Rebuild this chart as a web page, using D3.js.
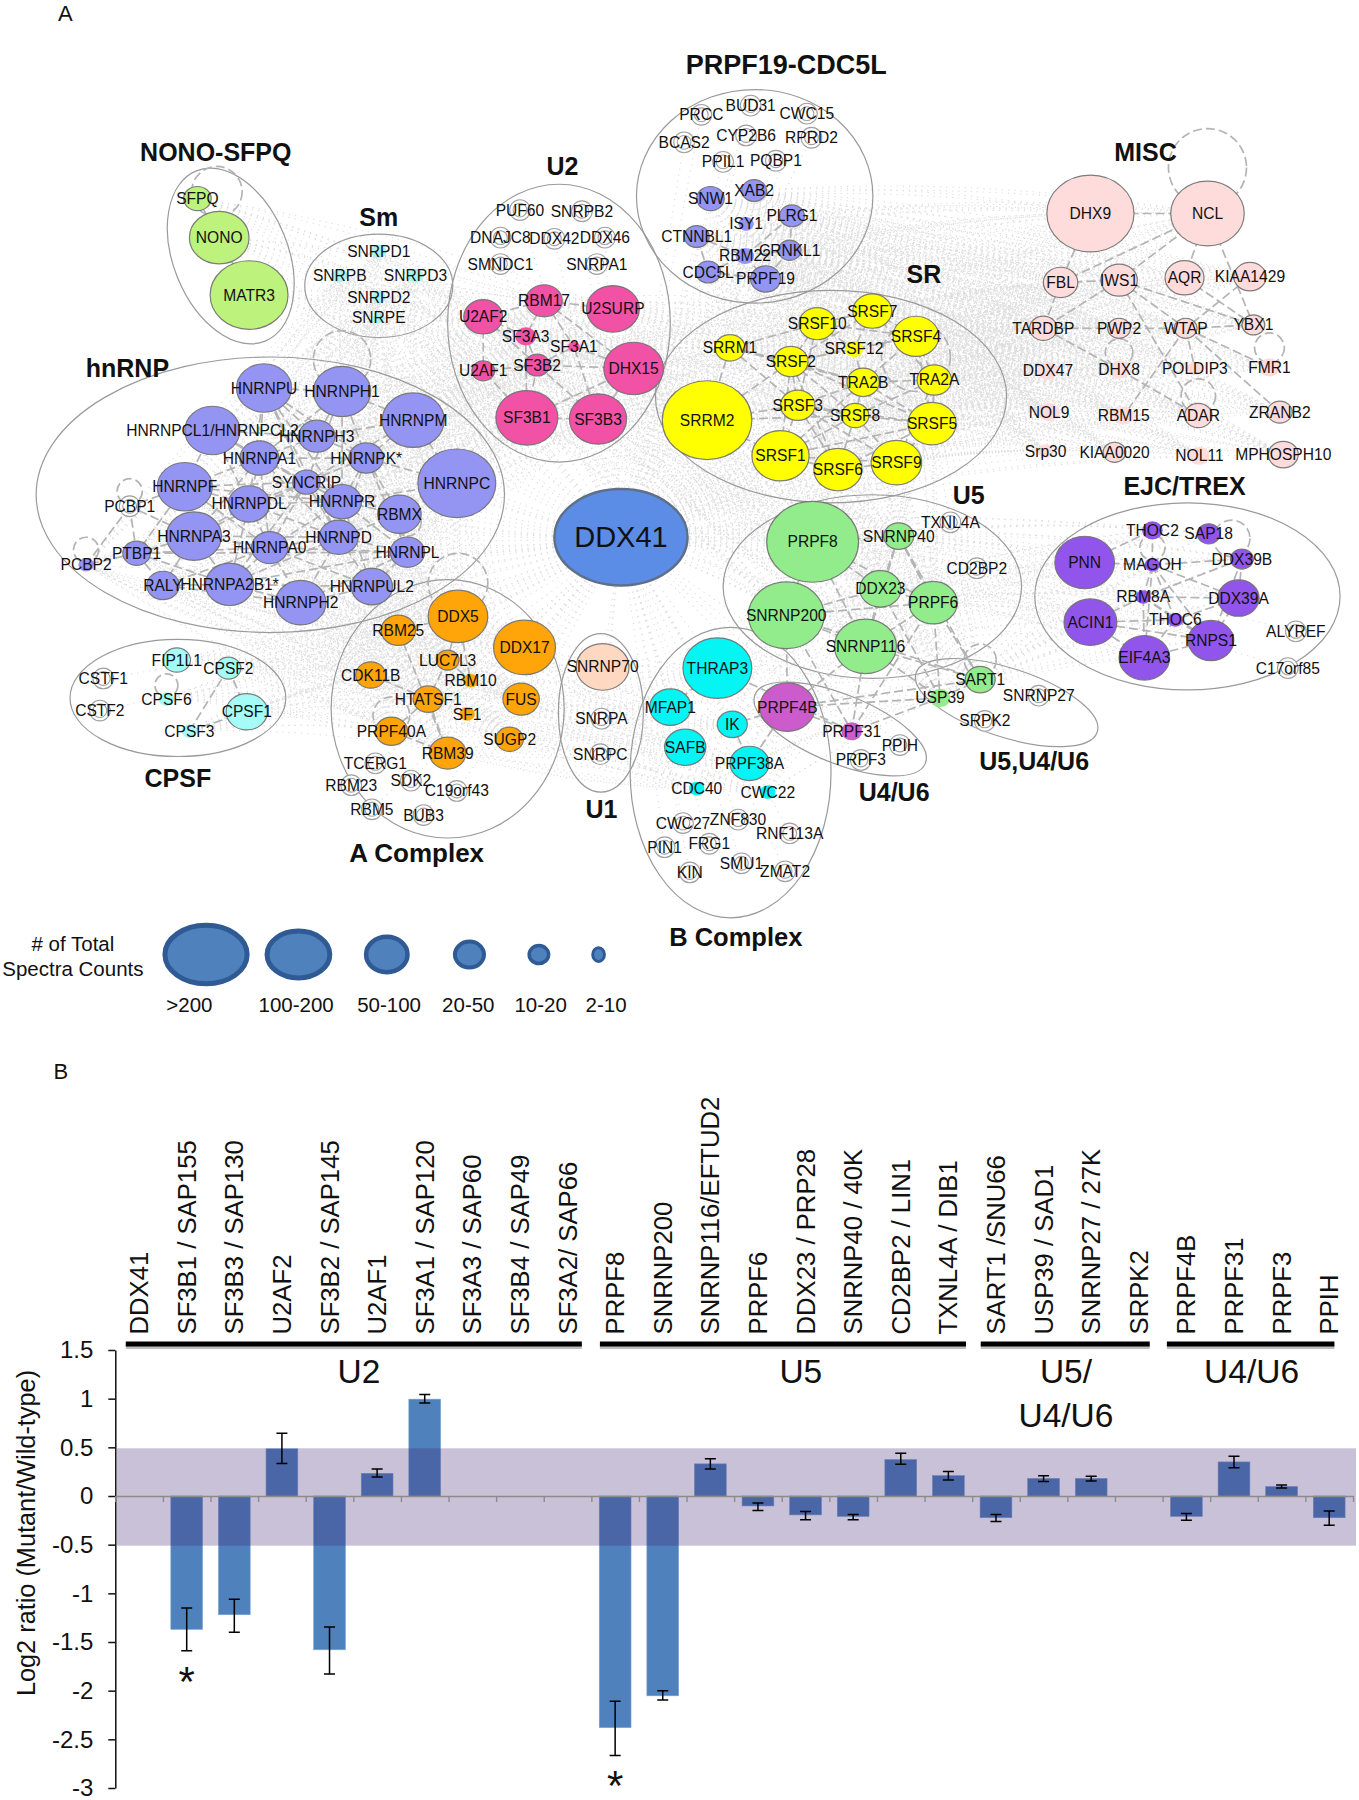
<!DOCTYPE html>
<html><head><meta charset="utf-8">
<script src="https://cdn.jsdelivr.net/npm/d3@7/dist/d3.min.js"></script>
<style>
html,body{margin:0;padding:0;background:#fff}
svg{display:block}
text{font-family:"Liberation Sans",Arial,sans-serif;fill:#111}
</style></head><body><div id="c"></div>
<script>
// ---------- Panel A: network layout, [name, layout x, layout y, spectra count]; count 0 = not quantified
const nono=[["SFPQ",172,173,16],["NONO",191,207,75],["MATR3",217,257,128]];
const sm=[["SNRPD1",330,219,5],["SNRPB",296,240,5],["SNRPD3",362,240,5],["SNRPD2",330,259,4],["SNRPE",330,277,3]];
const u2=[["PUF60",453,183,0],["SNRPB2",507,184,0],["DNAJC8",436,207,0],["DDX42",483,208,0],["DDX46",527,207,0],["SMNDC1",436,230,0],["SNRPA1",520,230,0],
["RBM17",474,262,28],["U2SURP",534,269,59],["U2AF2",421,276,32],["SF3A3",458,293,9],["SF3A1",500,302,3],["SF3B2",468,318,13],["U2AF1",421,323,11],["DHX15",552,321,75],["SF3B1",459,364,81],["SF3B3",521,365,69]];
const hnrnp=[["HNRNPU",230,338,64],["HNRNPH1",298,341,69],["HNRNPM",360,366,81],["HNRNPCL1/HNRNPCL2",185,375,64],["HNRNPH3",276,380,28],["HNRNPA1",226,399,32],["HNRNPK*",319,399,25],["HNRNPC",398,421,128],["HNRNPF",161,424,64],["SYNCRIP",267,420,16],["HNRNPDL",217,439,36],["HNRNPR",298,437,32],["RBMX",348,448,40],["PCBP1",113,441,0],["HNRNPA3",169,467,64],["HNRNPD",295,468,32],["HNRNPA0",235,477,28],["HNRNPL",355,481,25],["PTBP1",119,482,16],["PCBP2",75,492,5],["RALY",142,510,22],["HNRNPA2B1*",200,509,49],["HNRNPUL2",324,511,36],["HNRNPH2",262,525,54]];
const aComplex=[["DDX5",399,537,75],["RBM25",347,549,25],["DDX17",457,564,81],["LUC7L3",390,575,11],["CDK11B",323,588,19],["RBM10",410,593,5],["HTATSF1",373,609,19],["FUS",454,609,28],["SF1",407,622,5],["PRPF40A",341,637,22],["SUGP2",444,644,16],["RBM39",390,656,28],["TCERG1",327,665,0],["RBM23",306,684,0],["SDK2",358,680,0],["C19orf43",398,689,0],["RBM5",324,705,0],["BUB3",369,710,0]];
const cpsf=[["CSTF1",90,591,0],["CSTF2",87,619,0],["FIP1L1",154,575,16],["CPSF2",199,582,13],["CPSF6",145,609,5],["CPSF1",215,620,36],["CPSF3",165,637,5]];
const u1=[["SNRNP70",525,581,59],["SNRPA",524,626,0],["SNRPC",523,657,0]];
const prpf19=[["PRCC",611,100,0],["BUD31",654,92,0],["CWC15",703,99,0],["BCAS2",596,124,0],["CYP2B6",650,118,0],["RPRD2",707,120,0],["PPIL1",630,141,0],["PQBP1",676,140,0],["XAB2",657,166,13],["SNW1",619,173,16],["PLRG1",690,188,13],["ISY1",650,195,5],["CTNNBL1",607,206,13],["CRNKL1",688,218,11],["RBM22",649,223,7],["CDC5L",617,237,13],["PRPF19",667,243,19]];
const sr=[["SRSF7",760,271,32],["SRSF10",712,282,28],["SRSF4",798,293,44],["SRRM1",636,303,19],["SRSF12",744,304,7],["SRSF2",689,315,25],["TRA2B",752,333,22],["TRA2A",814,331,25],["SRRM2",616,366,169],["SRSF3",695,353,25],["SRSF8",745,362,16],["SRSF5",812,369,49],["SRSF1",680,397,69],["SRSF6",730,409,49],["SRSF9",781,403,54]];
const misc=[["DHX9",950,186,160],["NCL",1052,186,114],["FBL",924,246,25],["IWS1",975,244,28],["AQR",1032,242,32],["KIAA1429",1089,241,22],["TARDBP",909,286,16],["PWP2",975,286,11],["WTAP",1033,286,11],["YBX1",1092,283,11],["DDX47",913,323,9],["DHX8",975,322,9],["POLDIP3",1041,321,5],["FMR1",1106,320,9],["NOL9",914,359,9],["RBM15",979,362,9],["ADAR",1044,362,16],["ZRANB2",1115,359,13],["Srp30",911,393,5],["KIAA0020",971,394,11],["NOL11",1045,397,9],["MPHOSPH10",1118,396,19]];
const u5=[["PRPF8",708,472,178],["SNRNP40",783,467,19],["TXNL4A",828,455,0],["CD2BP2",851,495,0],["DDX23",767,513,36],["PRPF6",813,525,49],["SNRNP200",685,536,121],["SNRNP116",754,563,81],["SART1",854,592,19],["USP39",819,608,9],["SNRNP27",905,606,0],["SRPK2",858,628,0]];
const u4u6=[["PRPF4B",686,616,64],["PRPF31",742,637,9],["PRPF3",750,662,0],["PPIH",784,649,0]];
const bComplex=[["THRAP3",625,582,100],["MFAP1",584,616,36],["IK",638,631,19],["SAFB",597,651,36],["PRPF38A",653,665,32],["CDC40",607,687,5],["CWC22",669,690,5],["CWC27",595,717,0],["ZNF830",643,714,0],["RNF113A",688,726,0],["PIN1",579,738,0],["FRG1",618,735,0],["SMU1",646,752,0],["ZMAT2",684,759,0],["KIN",601,760,0]];
const ejc=[["PNN",945,490,75],["THOC2",1004,462,9],["SAP18",1053,465,11],["MAGOH",1004,492,5],["DDX39B",1082,487,11],["RBM8A",996,520,5],["DDX39A",1079,521,36],["ACIN1",950,542,59],["THOC6",1024,540,5],["RNPS1",1055,558,44],["EIF4A3",997,573,54],["ALYREF",1129,550,0],["C17orf85",1122,582,0]];

const moduleColors=[[nono,"#BDF27C"],[sm,"#A5F5F0"],[u2,"#F252A5"],[hnrnp,"#9494F2"],[aComplex,"#FFA50A"],[cpsf,"#A5FBF6"],[u1,"#FFD8C2"],[prpf19,"#9494F2"],[sr,"#FFFF00"],[misc,"#FFDCDC"],[u5,"#92EC8C"],[u4u6,"#CC5CCB"],[bComplex,"#05F5F5"],[ejc,"#9155EC"]];

// outlines: [layout cx, cy, rx, ry, rotation]
const hulls=[[201,223,50,80,-22],[330,249,64.5,45,0],[487,281.5,97,121,0],[235.5,431,204,120,0],[657.5,171,103,93,0],[724,345.5,153,92.5,0],[1034.5,519.5,133,81.5,0],[760,511,130,80,0],[636.5,673,87.5,126.5,0],[523.5,621,37,69,0],[390,617.5,101.5,112.5,0],[155,608,94,51,0],[732,635,80,30,22],[877,612,83,30,18]];
const titles=[["NONO-SFPQ",188,132,25],["Sm",330,189,25],["U2",490,145,25],["hnRNP",111,321,25],["PRPF19-CDC5L",685,57,27],["MISC",998,132,25],["SR",805,239,25],["EJC/TREX",1032,423,25],["U5",844,431,25],["U5,U4/U6",901,663,25],["U4/U6",779,690,25],["B Complex",641,816,25.5],["CPSF",155,678,25],["A Complex",363,743,26],["U1",524,705,25]];

// dashed interactions: "hub > partners"
const dashedEdges=[
"SFPQ > NONO","NONO > MATR3",
"RBM17 > U2SURP U2AF2 SF3A3 SF3A1 DHX15","U2AF2 > U2AF1 SF3A3 SF3B2","SF3B2 > DHX15 SF3B1 SF3B3 SF3A1 SF3A3 U2AF1","SF3B1 > SF3B3 SF3A3 U2AF1 DHX15","SF3B3 > DHX15 SF3A1","SF3A1 > DHX15",
"HNRNPU > HNRNPH1 HNRNPH3 HNRNPA1 SYNCRIP HNRNPK* HNRNPDL HNRNPR HNRNPD","HNRNPH1 > HNRNPH3 HNRNPM HNRNPK* SYNCRIP HNRNPR HNRNPA1","HNRNPM > HNRNPK* HNRNPH3 HNRNPC SYNCRIP","HNRNPCL1/HNRNPCL2 > HNRNPA1 HNRNPH3 HNRNPF SYNCRIP HNRNPDL","HNRNPA1 > HNRNPH3 SYNCRIP HNRNPF HNRNPDL HNRNPR HNRNPA3 HNRNPA0 HNRNPD HNRNPK*","HNRNPK* > SYNCRIP HNRNPC HNRNPR HNRNPD RBMX HNRNPH3 HNRNPL","HNRNPF > HNRNPDL SYNCRIP HNRNPA3 PTBP1 HNRNPA0 PCBP1 HNRNPR","SYNCRIP > HNRNPDL HNRNPR HNRNPD HNRNPA0 HNRNPA3 RBMX HNRNPA2B1*","HNRNPDL > HNRNPA3 HNRNPA0 HNRNPD HNRNPR HNRNPA2B1*","HNRNPR > RBMX HNRNPD HNRNPL HNRNPA0 HNRNPC HNRNPUL2","RBMX > HNRNPD HNRNPL HNRNPC","HNRNPA3 > PTBP1 RALY HNRNPA2B1* HNRNPA0 HNRNPD PCBP1","HNRNPD > HNRNPA0 HNRNPL HNRNPUL2 HNRNPH2 HNRNPA2B1*","HNRNPA0 > HNRNPL HNRNPA2B1* HNRNPH2 RALY HNRNPUL2","HNRNPL > HNRNPUL2 HNRNPH2 HNRNPA2B1* PTBP1","PTBP1 > PCBP2 RALY HNRNPA2B1* PCBP1 HNRNPA0","PCBP1 > PCBP2","RALY > HNRNPA2B1* HNRNPH2","HNRNPA2B1* > HNRNPH2 HNRNPUL2","HNRNPH2 > HNRNPUL2",
"DDX5 > LUC7L3 RBM10 RBM25","LUC7L3 > RBM10 HTATSF1","RBM25 > RBM39","HTATSF1 > RBM39","PRPF40A > RBM39 HTATSF1","CDK11B > HTATSF1",
"CPSF2 > CPSF1 CPSF3","CPSF3 > CPSF1",
"CDC5L > CTNNBL1 PRPF19 RBM22","CTNNBL1 > RBM22","RBM22 > PLRG1 PRPF19 CRNKL1","PLRG1 > CRNKL1","CRNKL1 > PRPF19",
"SRRM1 > SRRM2 SRSF2 SRSF10 TRA2B SRSF3","SRSF10 > SRSF7 SRSF2 SRSF4 SRSF12 SRSF3","SRSF7 > SRSF4 SRSF12 TRA2A SRSF2","SRSF4 > TRA2A SRSF12 SRSF2 SRSF5 TRA2B","SRSF2 > SRSF3 TRA2B SRSF8 SRSF1 SRSF5 SRSF12 SRSF6 SRRM2","TRA2B > TRA2A SRSF8 SRSF3 SRSF5 SRSF12 SRSF1","TRA2A > SRSF5 SRSF8 SRSF9","SRRM2 > SRSF3 SRSF1 SRSF8","SRSF3 > SRSF8 SRSF1 SRSF6 SRSF5 SRSF9","SRSF8 > SRSF5 SRSF6 SRSF1 SRSF9","SRSF5 > SRSF9 SRSF6 SRSF1","SRSF1 > SRSF6 SRSF9","SRSF6 > SRSF9",
"DHX9 > NCL FBL","NCL > FBL IWS1 AQR YBX1","FBL > TARDBP IWS1","IWS1 > YBX1 WTAP TARDBP","AQR > YBX1","KIAA1429 > WTAP","TARDBP > PWP2 DHX8","PWP2 > WTAP","WTAP > YBX1 FMR1 POLDIP3 ZRANB2 RBM15","IWS1 > ADAR","DHX8 > ADAR",
"PRPF8 > SNRNP200 SNRNP116 DDX23 SNRNP40 PRPF6","SNRNP200 > SNRNP116 DDX23 PRPF6 PRPF4B PRPF31 SART1","SNRNP116 > DDX23 PRPF6 SNRNP40 SART1 USP39 PRPF4B PRPF31","SNRNP40 > DDX23 PRPF6 SART1","DDX23 > PRPF6 USP39","PRPF6 > SART1 USP39 PRPF31 SNRNP40",
"USP39 > SART1 PRPF31 PRPF4B","SART1 > PRPF4B","PRPF4B > PRPF31 IK PRPF38A","PRPF31 > THRAP3","THRAP3 > MFAP1","IK > PRPF38A",
"PNN > MAGOH THOC2","THOC2 > MAGOH","MAGOH > DDX39B RBM8A DDX39A THOC6 RNPS1 EIF4A3","DDX39B > DDX39A RBM8A RNPS1","DDX39A > RBM8A THOC6 RNPS1","RBM8A > THOC6 EIF4A3 ACIN1 RNPS1","ACIN1 > EIF4A3 THOC6 RNPS1","THOC6 > RNPS1 EIF4A3","EIF4A3 > RNPS1"];
// self-interaction loops: [node, lift above node, loop radius, sideways shift]
const loops=[["HNRNPH1",28,25,0],["PCBP1",13,11,0],["PCBP2",13,11,0],["NCL",40,34,0],["DDX5",29,26,0],["SFPQ",6,22,17],["FMR1",17,13,0],["DHX8",15,12,0],["ADAR",17,15,0],["CPSF6",12,10,0],["PRPF40A",14,16,0],["SART1",17,14,0],["MAGOH",15,11,0],["SAP18",-4,16,20],["SRSF4",-18,30,0],["HNRNPL",26,12,0]];
// background co-purification fans between these modules
const dottedModulePairs=[[sr,misc],[u2,hnrnp],[u2,sr],[u5,sr],[u5,ejc],[aComplex,hnrnp],[hnrnp,sm],[u2,sm],[bComplex,u5],[u5,u2],[bComplex,aComplex],[nono,u2],[cpsf,aComplex],[prpf19,misc],[prpf19,sr]];

const legendLabels=[">200","100-200","50-100","20-50","10-20","2-10"];
const legendRx=[38,29.5,20,14.4,10,6.4];
const legendRy=[27.6,22.6,17.4,13,9.3,7.3];
const legendMarkX=[179.5,260,337,409,469.5,521.5];
const legendTextX=[165,258,339,408,471,528];

// ---------- Panel B
const categories=["DDX41","SF3B1 / SAP155","SF3B3 / SAP130","U2AF2","SF3B2 / SAP145","U2AF1","SF3A1 / SAP120","SF3A3 / SAP60","SF3B4 / SAP49","SF3A2/ SAP66","PRPF8","SNRNP200","SNRNP116/EFTUD2","PRPF6","DDX23 / PRP28","SNRNP40 / 40K","CD2BP2 / LIN1","TXNL4A / DIB1","SART1 /SNU66","USP39 / SAD1","SNRNP27 / 27K","SRPK2","PRPF4B","PRPF31","PRPF3","PPIH"];
const ratios=[null,-1.37,-1.22,0.485,-1.58,0.233,0.995,null,null,null,-2.38,-2.053,0.33,-0.102,-0.194,-0.209,0.374,0.209,-0.223,0.18,0.18,null,-0.209,0.35,0.097,-0.223];
const errHigh=[null,-1.15,-1.06,0.645,-1.345,0.277,1.044,null,null,null,-2.11,-2.0,0.383,-0.073,-0.16,-0.19,0.44,0.252,-0.19,0.209,0.204,null,-0.18,0.408,0.112,-0.155];
const errLow=[null,-1.59,-1.40,0.335,-1.83,0.194,0.956,null,null,null,-2.665,-2.097,0.277,-0.15,-0.243,-0.243,0.325,0.165,-0.262,0.15,0.155,null,-0.248,0.291,0.083,-0.3];
const yTicks=[1.5,1,0.5,0,-0.5,-1,-1.5,-2,-2.5,-3];
const bandLimits=[-0.51,0.49];
const groupNames=[["U2"],["U5"],["U5/","U4/U6"],["U4/U6"]];
// group rule start/end and label centre, in category-slot units
const groupStart=[0.22,10.18,18.18,22.09];
const groupEnd=[9.8,17.87,21.73,25.61];
const groupCentre=[5.12,14.4,19.97,23.87];
const starred=["SF3B1 / SAP155","PRPF8"];

// ---------- drawing
const W=1359,H=1800;
const svg=d3.select("#c").append("svg").attr("width",W).attr("height",H).attr("viewBox",[0,0,W,H]);
const lx=d3.scaleLinear().domain([0,1184]).range([0,W]);
const ly=d3.scaleLinear().domain([0,1568]).range([0,H]);
const rScale=d3.scaleSqrt().domain([0,400]).range([0,lx(60)]);
const ringR=[lx(9),lx(6)];
const squash=0.88;

const nodes=[];
moduleColors.forEach(([m,color])=>m.forEach(([name,x,y,count])=>nodes.push({name,x,y,count,color,module:m})));
const ddx41={name:"DDX41",x:541,y:468,count:374};
const byName=new Map(nodes.map(n=>[n.name,n]));
byName.set("DDX41",ddx41);

// dotted background
const dotted=[];
nodes.forEach(n=>dotted.push([ddx41,n]));
dottedModulePairs.forEach(([a,b])=>{
  const A=nodes.filter(n=>n.module===a&&n.count>0),B=nodes.filter(n=>n.module===b&&n.count>0);
  A.forEach(p=>B.forEach(q=>dotted.push([p,q])));
});
svg.append("g").attr("fill","none").attr("stroke","#c9c9c9").attr("stroke-width",1.1).attr("stroke-dasharray","1.2 5").attr("opacity",.62)
 .selectAll("path").data(dotted).join("path")
 .attr("d",([a,b])=>{const mx=(lx(a.x)+lx(b.x))/2,my=(ly(a.y)+ly(b.y))/2-(lx(b.x)-lx(a.x))*.06;
   return `M${lx(a.x)},${ly(a.y)}Q${mx},${my} ${lx(b.x)},${ly(b.y)}`;});

// outlines
svg.append("g").attr("fill","none").attr("stroke","#9a9a9a").attr("stroke-width",1.2)
 .selectAll("ellipse").data(hulls).join("ellipse")
 .attr("rx",d=>lx(d[2])).attr("ry",d=>ly(d[3]))
 .attr("transform",d=>`translate(${lx(d[0])},${ly(d[1])}) rotate(${d[4]})`);

// dashed edges
const edges=[];
dashedEdges.forEach(s=>{const [h,t]=s.split(" > ");t.split(" ").forEach(o=>edges.push([byName.get(h),byName.get(o)]));});
svg.append("g").attr("stroke","#b4b4b4").attr("stroke-width",1.7).attr("stroke-dasharray","9 4")
 .selectAll("line").data(edges).join("line")
 .attr("x1",d=>lx(d[0].x)).attr("y1",d=>ly(d[0].y)).attr("x2",d=>lx(d[1].x)).attr("y2",d=>ly(d[1].y));
svg.append("g").attr("fill","none").attr("stroke","#b4b4b4").attr("stroke-width",1.7).attr("stroke-dasharray","9 4")
 .selectAll("circle").data(loops).join("circle")
 .attr("cx",d=>lx(byName.get(d[0]).x+d[3])).attr("cy",d=>ly(byName.get(d[0]).y-d[1])).attr("r",d=>lx(d[2]));

// nodes
const quant=nodes.filter(n=>n.count>0),empty=nodes.filter(n=>n.count===0);
svg.append("g").attr("stroke","#6f6f6f").attr("stroke-width",1.2)
 .selectAll("ellipse").data(quant).join("ellipse")
 .attr("cx",d=>lx(d.x)).attr("cy",d=>ly(d.y)).attr("rx",d=>rScale(d.count)).attr("ry",d=>rScale(d.count)*squash)
 .attr("fill",d=>d.color).attr("stroke-opacity",d=>d.count<10?0:.9);
const rings=svg.append("g").attr("fill","#fff").attr("stroke","#a0a0a0").attr("stroke-width",1.1);
ringR.forEach(r=>rings.append("g").selectAll("circle").data(empty).join("circle")
 .attr("cx",d=>lx(d.x)).attr("cy",d=>ly(d.y)).attr("r",r));
svg.append("ellipse").attr("cx",lx(ddx41.x)).attr("cy",ly(ddx41.y)).attr("rx",lx(58)).attr("ry",ly(42))
 .attr("fill","#5B8DE6").attr("stroke","#5f6f8a").attr("stroke-width",2.5);

// labels
svg.append("g").attr("font-size",15.6).attr("text-anchor","middle").attr("dominant-baseline","central")
 .selectAll("text").data(nodes).join("text").attr("x",d=>lx(d.x)).attr("y",d=>ly(d.y)).attr("fill","#1c1c1c").text(d=>d.name);
svg.append("text").attr("x",lx(ddx41.x)).attr("y",ly(ddx41.y)).attr("font-size",29).attr("text-anchor","middle").attr("dominant-baseline","central").text(ddx41.name);
svg.append("g").attr("font-weight","bold").attr("text-anchor","middle").attr("dominant-baseline","central")
 .selectAll("text").data(titles).join("text").attr("x",d=>lx(d[1])).attr("y",d=>ly(d[2])).attr("font-size",d=>d[3]).text(d=>d[0]);
svg.append("text").attr("x",lx(57)).attr("y",ly(12)).attr("font-size",22).attr("text-anchor","middle").attr("dominant-baseline","central").text("A");
svg.append("text").attr("x",lx(53)).attr("y",ly(933)).attr("font-size",22).attr("text-anchor","middle").attr("dominant-baseline","central").text("B");

// legend
const legendRows=legendLabels.map((t,i)=>({t,rx:legendRx[i],ry:legendRy[i],x:legendMarkX[i],tx:legendTextX[i],sw:[5,5,4.5,4,3.5,3][i]}));
svg.append("g").attr("fill","#4F81BD").attr("stroke","#2F5A94")
 .selectAll("ellipse").data(legendRows).join("ellipse")
 .attr("cx",d=>lx(d.x)).attr("cy",ly(831.5)).attr("rx",d=>lx(d.rx)-d.sw/2).attr("ry",d=>ly(d.ry)-d.sw/2).attr("stroke-width",d=>d.sw);
svg.append("g").attr("font-size",20.5).attr("text-anchor","middle").attr("dominant-baseline","central")
 .selectAll("text").data(legendRows).join("text").attr("x",d=>lx(d.tx)).attr("y",ly(875)).text(d=>d.t);
svg.selectAll(null).data(["# of Total","Spectra Counts"]).join("text").attr("x",lx(63.5)).attr("y",(d,i)=>ly(822+i*21.5))
 .attr("font-size",20.5).attr("text-anchor","middle").attr("dominant-baseline","central").text(d=>d);

// ---------- bar chart
const x=d3.scaleBand().domain(categories).range([115.3,1353]).paddingInner(.333).paddingOuter(.1665);
const xIdx=d3.scaleLinear().domain([0,categories.length]).range([115.3,1353]);
const y=d3.scaleLinear().domain([-3,1.5]).range([1788,1350]);
const rows=categories.map((c,i)=>({c,v:ratios[i],hi:errHigh[i],lo:errLow[i]})).filter(d=>d.v!==null);

svg.append("g").selectAll("rect").data(rows).join("rect")
 .attr("x",d=>x(d.c)).attr("width",x.bandwidth())
 .attr("y",d=>y(Math.max(0,d.v))).attr("height",d=>Math.abs(y(d.v)-y(0)))
 .attr("fill","#4F81BD").attr("stroke","#7ba3d2").attr("stroke-width",.6);
svg.append("rect").attr("x",117).attr("width",1239).attr("y",y(bandLimits[1])).attr("height",y(bandLimits[0])-y(bandLimits[1]))
 .attr("fill","#3E2270").attr("fill-opacity",.28);

svg.append("g").attr("stroke","#000").attr("stroke-width",1.5).attr("fill","none")
 .selectAll("path").data(rows).join("path")
 .attr("d",d=>{const c=x(d.c)+x.bandwidth()/2,h=y(d.hi),l=y(d.lo),w=5.5;return `M${c-w},${h}H${c+w}M${c},${h}V${l}M${c-w},${l}H${c+w}`;});

const gy=svg.append("g").attr("transform","translate(115.3,0)").call(d3.axisLeft(y).tickValues(yTicks).tickFormat(d=>String(d)).tickSize(7).tickPadding(15).tickSizeOuter(0));
gy.selectAll("text").attr("font-size",24).style("font-family",'"Liberation Sans",Arial,sans-serif').attr("fill","#111");
gy.selectAll("path,line").attr("stroke","#111").attr("stroke-width",1.5);
const gx=svg.append("g").attr("transform",`translate(0,${y(0)})`).call(d3.axisBottom(xIdx).tickValues(d3.range(categories.length+1)).tickFormat("").tickSize(6).tickSizeOuter(0));
gx.selectAll("path,line").attr("stroke","#8c8c8c").attr("stroke-width",1.4);

svg.append("text").attr("transform",`translate(26,1533) rotate(-90)`).attr("font-size",25.3).attr("text-anchor","middle").attr("dominant-baseline","central").text("Log2 ratio (Mutant/Wild-type)");
svg.append("g").attr("font-size",25.7).selectAll("text").data(categories).join("text")
 .attr("transform",d=>`translate(${x(d)+x.bandwidth()/2},1334.5) rotate(-90)`).attr("dominant-baseline","central").attr("fill","#111").text(d=>d);

const groupRows=groupNames.map((n,i)=>({n,a:xIdx(groupStart[i]),b:xIdx(groupEnd[i]),c:xIdx(groupCentre[i])}));
const gb=svg.append("g");
gb.selectAll("rect.s").data(groupRows).join("rect").attr("class","s").attr("x",d=>d.a).attr("width",d=>d.b-d.a).attr("y",1344.5).attr("height",4.5).attr("fill","#bdbdbd");
gb.selectAll("rect.b").data(groupRows).join("rect").attr("class","b").attr("x",d=>d.a).attr("width",d=>d.b-d.a).attr("y",1341.5).attr("height",5).attr("fill","#000");
svg.append("g").attr("font-size",33.5).attr("text-anchor","middle").attr("dominant-baseline","central").selectAll("g").data(groupRows).join("g")
 .each(function(d){d3.select(this).selectAll("text").data(d.n).join("text").attr("x",d.c).attr("y",(t,i)=>1371+i*44).text(t=>t);});

svg.append("g").attr("font-size",42).attr("text-anchor","middle").selectAll("text").data(starred).join("text")
 .attr("x",d=>x(d)+x.bandwidth()/2)
 .attr("y",d=>y(errLow[categories.indexOf(d)])+45)
 .text("*");
</script></body></html>
